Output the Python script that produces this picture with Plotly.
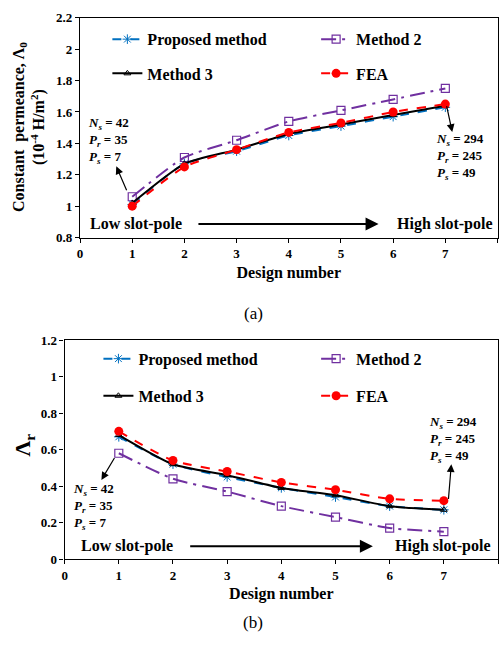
import plotly.graph_objects as go

# ---------------- data ----------------
design = [1, 2, 3, 4, 5, 6, 7]

# (a) constant permeance Lambda_0 (1e-4 H/m^2)
a_proposed = [1.01, 1.27, 1.35, 1.45, 1.51, 1.57, 1.63]
a_method2 = [1.06, 1.31, 1.42, 1.54, 1.61, 1.68, 1.75]
a_method3 = [1.02, 1.27, 1.36, 1.46, 1.52, 1.58, 1.64]
a_fea = [1.00, 1.25, 1.36, 1.47, 1.53, 1.60, 1.65]

# (b) Lambda_r
b_proposed = [0.67, 0.52, 0.45, 0.39, 0.34, 0.29, 0.27]
b_method2 = [0.58, 0.44, 0.37, 0.29, 0.23, 0.17, 0.15]
b_method3 = [0.68, 0.52, 0.46, 0.39, 0.35, 0.29, 0.27]
b_fea = [0.70, 0.54, 0.48, 0.42, 0.38, 0.33, 0.32]

series_names = ["Proposed method", "Method 2", "Method 3", "FEA"]

a_yticks = [0.8, 1.0, 1.2, 1.4, 1.6, 1.8, 2.0, 2.2]
a_yticklabels = ["0.8", "1", "1.2", "1.4", "1.6", "1.8", "2", "2.2"]
b_yticks = [0, 0.2, 0.4, 0.6, 0.8, 1.0, 1.2]
b_yticklabels = ["0", "0.2", "0.4", "0.6", "0.8", "1", "1.2"]
xticks = [0, 1, 2, 3, 4, 5, 6, 7, 8]

# ---------------- styles ----------------
W, H = 501, 654
SERIF = "Liberation Serif"
BLUE = "#0070C0"
PURPLE = "#7030A0"
RED = "#FF0000"

styles = {
    "Proposed method": dict(line=dict(color=BLUE, width=2, dash="dash"),
                            marker=dict(symbol="asterisk-open", size=8, color=BLUE, line=dict(color=BLUE, width=1))),
    "Method 2": dict(line=dict(color=PURPLE, width=2, dash="longdashdot"),
                     marker=dict(symbol="square-open", size=8, color=PURPLE, line=dict(color=PURPLE, width=1.2))),
    "Method 3": dict(line=dict(color="black", width=2, dash="solid"),
                     marker=dict(symbol="triangle-up-open", size=6, color="black", line=dict(color="black", width=1))),
    "FEA": dict(line=dict(color=RED, width=2, dash="dash"),
                marker=dict(symbol="circle", size=9, color=RED)),
}

def py(p):
    return 1 - p / H

fig = go.Figure()

sets = [
    ("x", "y", [a_proposed, a_method2, a_method3, a_fea], ["legend", "legend2", "legend3", "legend4"]),
    ("x2", "y2", [b_proposed, b_method2, b_method3, b_fea], ["legend5", "legend6", "legend7", "legend8"]),
]
for xa, ya, vals, legs in sets:
    for name, v, lg in zip(series_names, vals, legs):
        st = styles[name]
        fig.add_trace(go.Scatter(
            x=design, y=v, name=name, mode="lines+markers", showlegend=True,
            line=dict(**st["line"], shape="spline", smoothing=0.6),
            marker=st["marker"], xaxis=xa, yaxis=ya, legend=lg,
        ))

# ---------------- axes ----------------
top_l, top_r, top_t, top_b = 77.5, 497.5, 11, 236
bot_l, bot_r, bot_t, bot_b = 62, 498, 341, 565

tickfont = dict(family=SERIF, size=13, color="black", weight="bold")
axcommon = dict(showgrid=False, zeroline=False, showline=True, linecolor="black", linewidth=1.3,
                mirror=True, ticks="outside", ticklen=4, tickcolor="black", tickwidth=1,
                tickfont=tickfont)

fig.update_layout(
    width=W, height=H, margin=dict(l=0, r=0, t=0, b=0),
    paper_bgcolor="white", plot_bgcolor="white", showlegend=True,
    xaxis=dict(domain=[top_l / W, top_r / W], range=[0, 8], tickvals=xticks, anchor="y",
               title=dict(text="Design number", font=dict(family=SERIF, size=16, color="black", weight="bold"), standoff=6),
               **axcommon),
    yaxis=dict(domain=[py(top_b), py(top_t)], range=[0.8, 2.2], tickvals=a_yticks, ticktext=a_yticklabels,
               anchor="x", **axcommon),
    xaxis2=dict(domain=[bot_l / W, bot_r / W], range=[0, 8], tickvals=xticks, anchor="y2",
                title=dict(text="Design number", font=dict(family=SERIF, size=16, color="black", weight="bold"), standoff=6),
                **axcommon),
    yaxis2=dict(domain=[py(bot_b), py(bot_t)], range=[0, 1.2], tickvals=b_yticks, ticktext=b_yticklabels,
                anchor="x2", **axcommon),
)

legfont = dict(family=SERIF, size=16, color="black", weight="bold")
def leg(xpx, ypx):
    return dict(x=xpx / W, y=py(ypx), xanchor="left", yanchor="middle", font=legfont,
                bgcolor="rgba(0,0,0,0)", borderwidth=0, itemwidth=30, visible=True)

fig.update_layout(
    legend=leg(105, 33), legend2=leg(315, 33), legend3=leg(105, 68), legend4=leg(315, 68),
    legend5=leg(96, 360), legend6=leg(315, 360), legend7=leg(96, 398), legend8=leg(315, 398),
)

# ---------------- annotations ----------------
annfont = dict(family=SERIF, size=13, color="black", weight="bold")
ann = []

def text_block(xref, yref, x, y, lines):
    ann.append(dict(xref=xref, yref=yref, x=x, y=y, text="<br>".join(lines), showarrow=False,
                    xanchor="left", yanchor="middle", align="left", font=annfont))

def arrow(xref, yref, head, tail, width=1.2):
    ann.append(dict(xref=xref, yref=yref, axref=xref, ayref=yref, x=head[0], y=head[1],
                    ax=tail[0], ay=tail[1], text="", showarrow=True, arrowhead=2, arrowsize=1.3,
                    arrowwidth=width, arrowcolor="black"))

def lines_for(ns, pr, ps):
    return [f"<i>N<sub>s</sub></i> = {ns}", f"<i>P<sub>r</sub></i> = {pr}", f"<i>P<sub>s</sub></i> = {ps}"]

# top
text_block("x", "y", 0.12, 1.416, lines_for(42, 35, 7))
text_block("x", "y", 6.79, 1.317, lines_for(294, 245, 49))
arrow("x", "y", (0.695, 1.254), (0.905, 1.092))
arrow("x", "y", (7.133, 1.472), (7.019, 1.646))
# bottom
text_block("x2", "y2", 0.11, 0.289, lines_for(42, 35, 7))
text_block("x2", "y2", 6.68, 0.653, lines_for(294, 245, 49))
arrow("x2", "y2", (0.679, 0.434), (0.936, 0.562))
arrow("x2", "y2", (7.138, 0.520), (7.083, 0.321))

bigfont = dict(family=SERIF, size=16, color="black", weight="bold")
# slot-pole arrows
ann.append(dict(xref="x", yref="y", x=0.15, y=0.887, text="Low slot-pole", showarrow=False,
                xanchor="left", yanchor="middle", font=bigfont))
ann.append(dict(xref="x", yref="y", x=7.95, y=0.887, text="High slot-pole", showarrow=False,
                xanchor="right", yanchor="middle", font=bigfont))
arrow("x", "y", (5.72, 0.887), (2.24, 0.887), width=2)
ann.append(dict(xref="x2", yref="y2", x=0.26, y=0.07, text="Low slot-pole", showarrow=False,
                xanchor="left", yanchor="middle", font=bigfont))
ann.append(dict(xref="x2", yref="y2", x=7.9, y=0.07, text="High slot-pole", showarrow=False,
                xanchor="right", yanchor="middle", font=bigfont))
arrow("x2", "y2", (5.69, 0.07), (2.29, 0.07), width=2)

# y titles
ann.append(dict(xref="paper", yref="paper", x=26 / W, y=py(123), textangle=-90, showarrow=False,
                text="Constant  permeance, Λ<sub>0</sub><br>(10<sup>-4</sup> H/m<sup>2</sup>)",
                font=dict(family=SERIF, size=16, color="black", weight="bold"), xanchor="center", yanchor="middle"))
ann.append(dict(xref="paper", yref="paper", x=21 / W, y=py(448), textangle=-90, showarrow=False,
                text="Λ<sub>r</sub>",
                font=dict(family=SERIF, size=22, color="black", weight="bold"), xanchor="center", yanchor="middle"))

# captions
ann.append(dict(xref="paper", yref="paper", x=252 / W, y=py(314), text="(a)", showarrow=False,
                font=dict(family=SERIF, size=17, color="black"), xanchor="center", yanchor="middle"))
ann.append(dict(xref="paper", yref="paper", x=252 / W, y=py(630), text="(b)", showarrow=False,
                font=dict(family=SERIF, size=17, color="black"), xanchor="center", yanchor="middle"))

fig.update_layout(annotations=ann)

fig.write_html("out.html")
